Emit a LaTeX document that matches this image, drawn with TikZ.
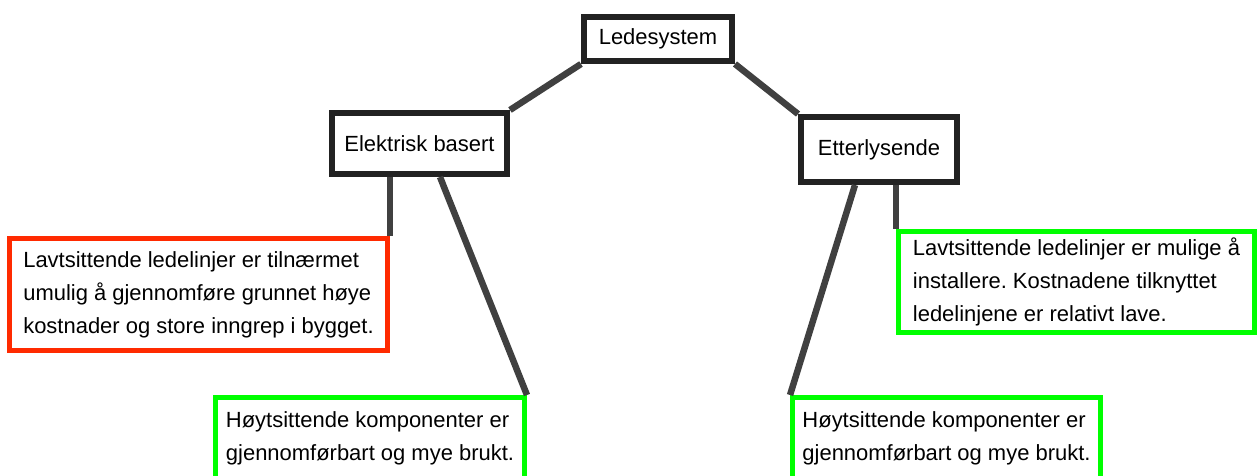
\documentclass[tikz,border=0pt]{standalone}
\usepackage{fontspec}
\setmainfont{Liberation Sans}
\frenchspacing
\usetikzlibrary{calc}

\definecolor{boxgray}{HTML}{222222}
\definecolor{linkgray}{HTML}{404040}
\definecolor{noteRed}{HTML}{FF2A00}
\definecolor{noteGreen}{HTML}{00FF00}

\begin{document}
\begin{tikzpicture}[x=0.02cm, y=-0.02cm,
    topic/.style = {draw=boxgray, line width=0.12cm, fill=white, inner sep=0pt,
                    font=\fontsize{12.5}{18.7}\selectfont},
    note/.style = {draw=#1, line width=0.1cm, fill=white, inner sep=0pt,
                    align=left, font=\fontsize{12.5}{18.7}\selectfont},
    link/.style = {draw=linkgray, line width=0.13cm}]
  \useasboundingbox (0,0) rectangle (1258,476);
  \clip (0,0) rectangle (1258,476);

  \node[topic, minimum width=2.96cm, minimum height=0.88cm] (lede) at (658,39) {Ledesystem};
  \node[topic, minimum width=3.5cm, minimum height=1.22cm] (elek) at (419.5,143.5) {Elektrisk basert};
  \node[topic, minimum width=3.12cm, minimum height=1.3cm] (etter) at (879,149.5) {Etterlysende};

  \node[note=noteRed, minimum width=7.56cm, minimum height=2.24cm] (elLav) at (198.5,294.5)
    {Lavtsittende ledelinjer er tilnærmet\\umulig å gjennomføre grunnet høye\\kostnader og store inngrep i bygget.};
  \node[note=noteGreen, minimum width=6.18cm, minimum height=1.62cm] (elHoy) at (370,438)
    {Høytsittende komponenter er\\gjennomførbart og mye brukt.};
  \node[note=noteGreen, minimum width=7.12cm, minimum height=2.02cm] (etLav) at (1076.5,282)
    {Lavtsittende ledelinjer er mulige å\\installere. Kostnadene tilknyttet\\ledelinjene er relativt lave.};
  \node[note=noteGreen, minimum width=6.16cm, minimum height=1.62cm] (etHoy) at (946.5,438)
    {Høytsittende komponenter er\\gjennomførbart og mye brukt.};

  \draw[link] (lede.south west) -- (elek.north east);
  \draw[link] (lede.south east) -- (etter.north west);
  \draw[link] (elLav.north east |- elek.south) -- (elLav.north east);
  \draw[link] ($(elek.south)+(20.5,0)$) -- (elHoy.north east);
  \draw[link] ($(etter.south)+(-24,0)$) -- (etHoy.north west);
  \draw[link] (etLav.north west |- etter.south) -- (etLav.north west);
\end{tikzpicture}
\end{document}
